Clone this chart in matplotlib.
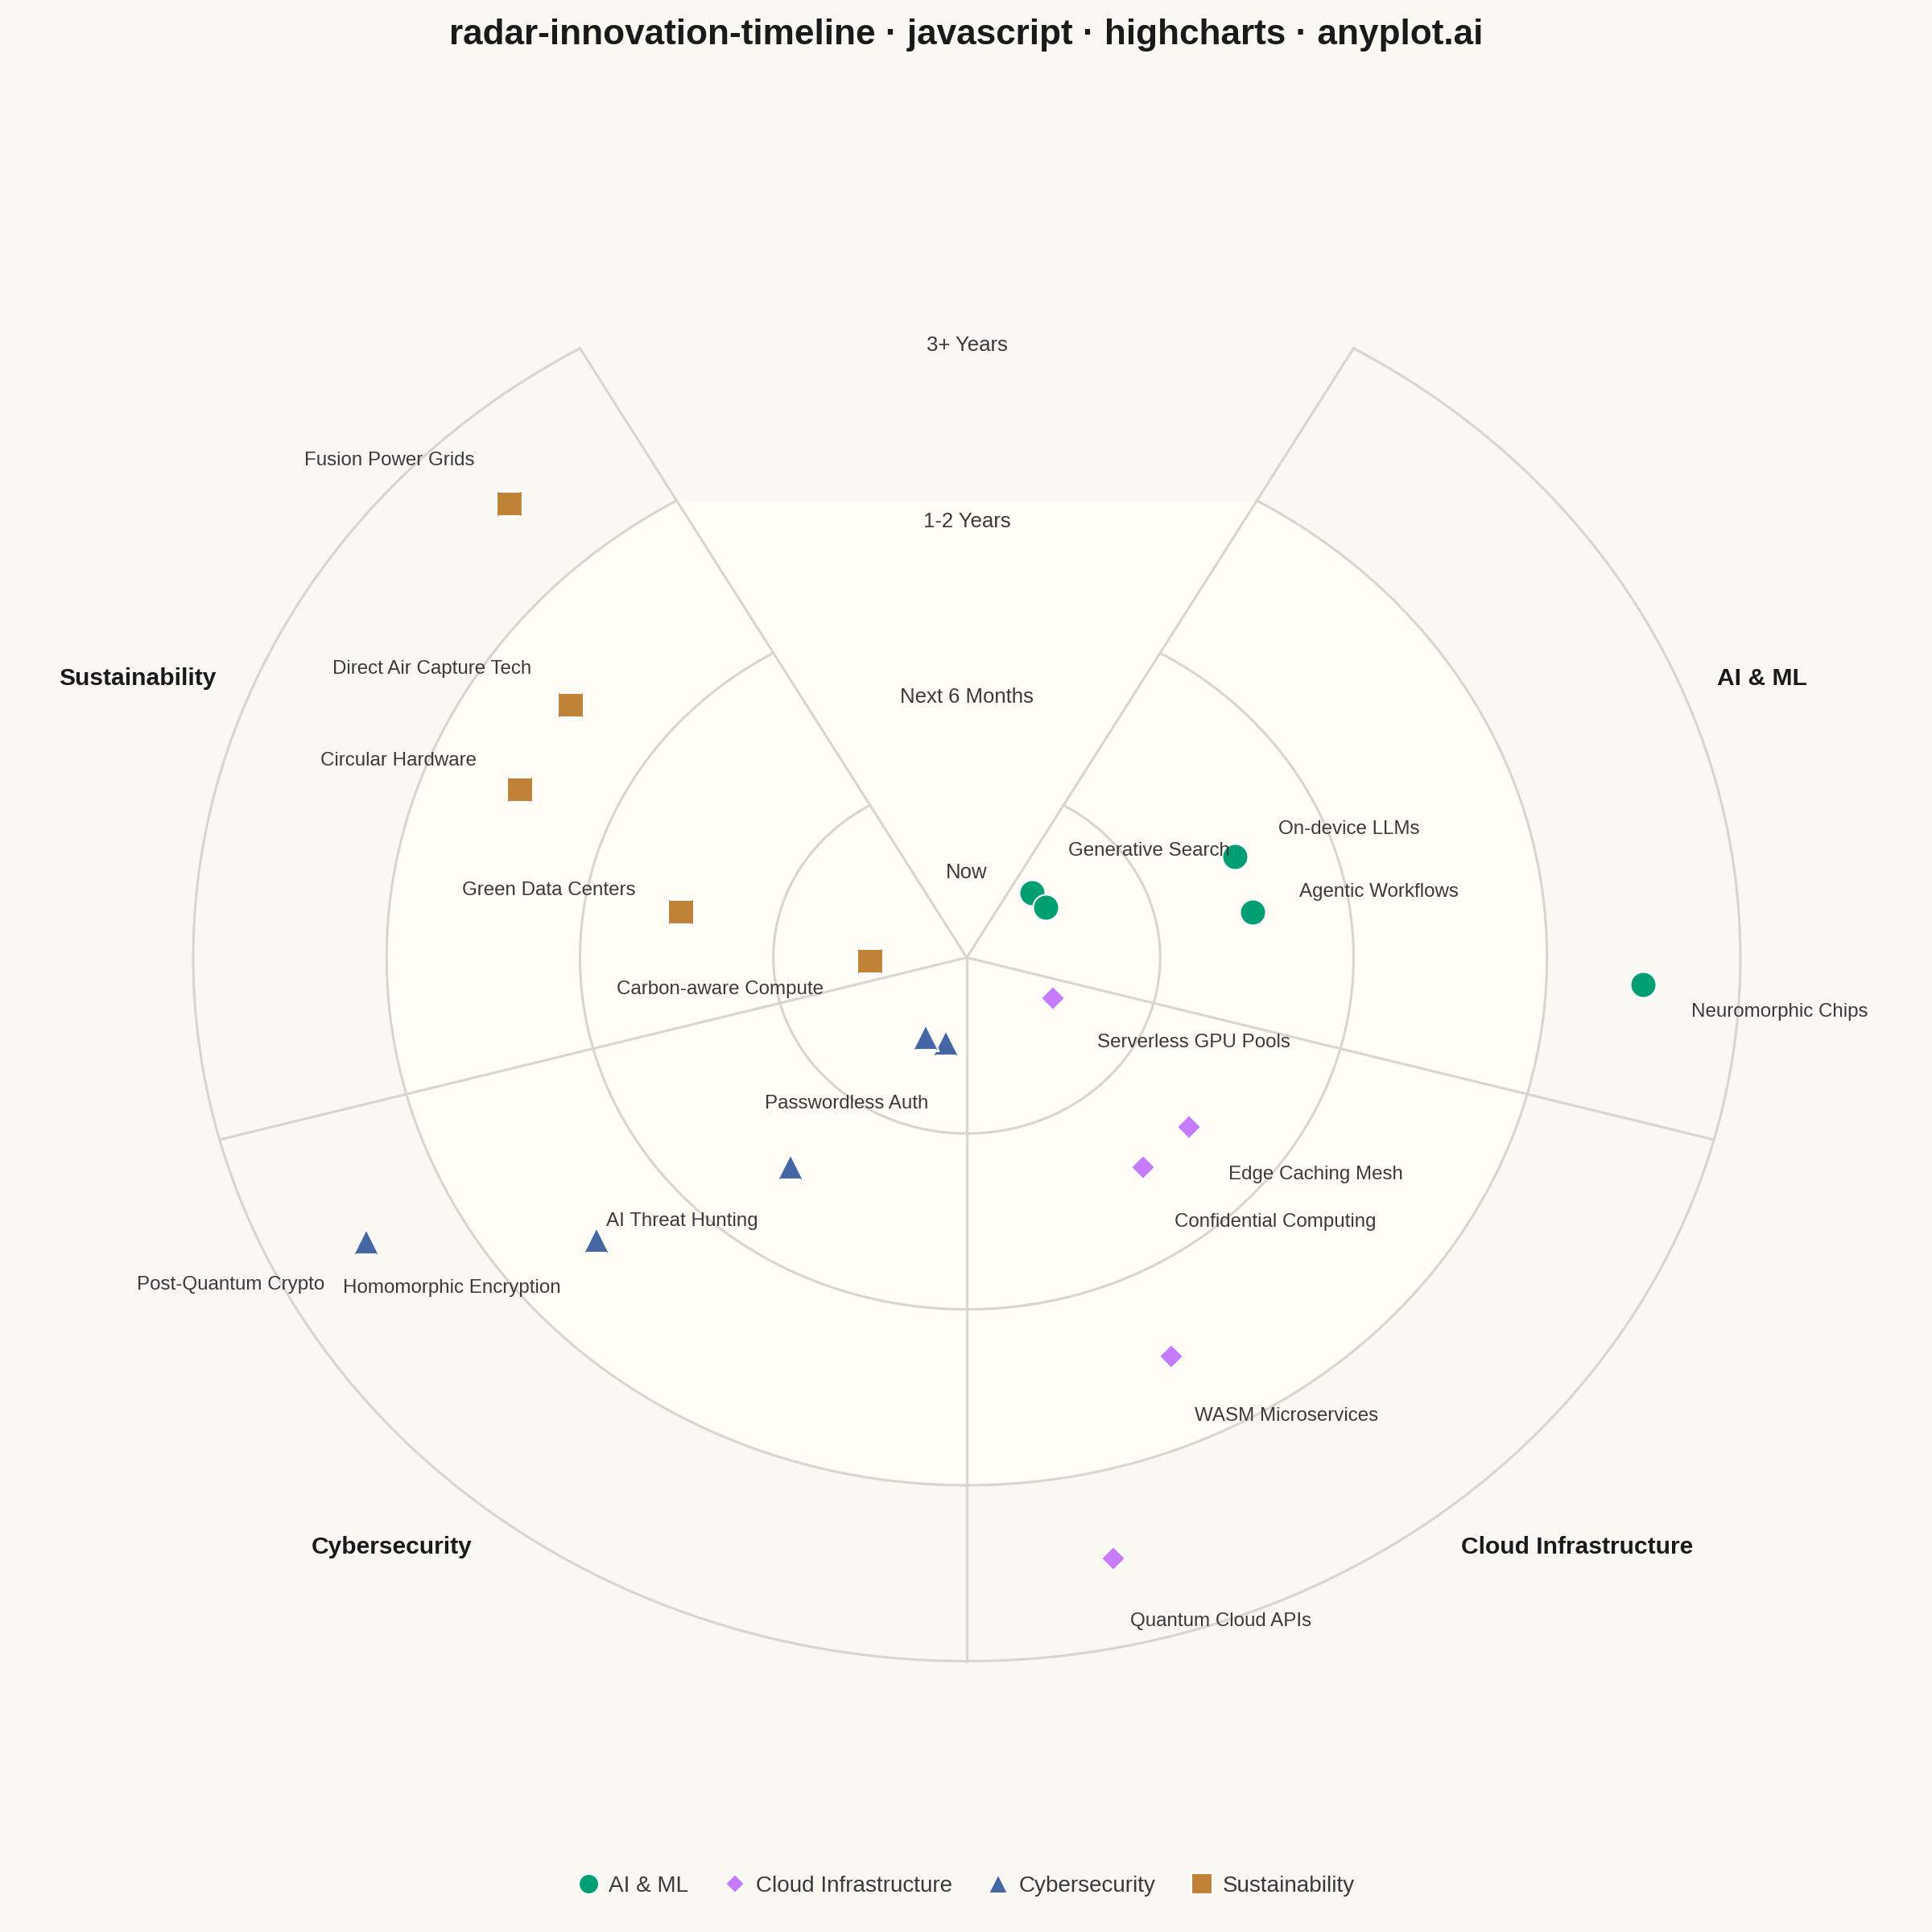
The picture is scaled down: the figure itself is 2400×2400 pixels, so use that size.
import numpy as np
import matplotlib.pyplot as plt
from matplotlib.markers import MarkerStyle
from matplotlib.transforms import offset_copy

plt.rcParams['font.family'] = ['Liberation Sans', 'DejaVu Sans']

# quadrants and horizon rings
categories = ['AI & ML', 'Cloud Infrastructure', 'Cybersecurity', 'Sustainability']
horizons = ['Now', 'Next 6 Months', '1-2 Years', '3+ Years']

# technologies, in clockwise order inside each quadrant
# ('' = label hidden in the original because it overlaps its neighbour)
ai_names = ['Generative Search', '', 'On-device LLMs', 'Agentic Workflows', 'Neuromorphic Chips']
ai_rings = ['Now', 'Now', 'Next 6 Months', 'Next 6 Months', '3+ Years']

cloud_names = ['Serverless GPU Pools', 'Edge Caching Mesh', 'Confidential Computing',
               'WASM Microservices', 'Quantum Cloud APIs']
cloud_rings = ['Now', 'Next 6 Months', 'Next 6 Months', '1-2 Years', '3+ Years']

cyber_names = ['Passwordless Auth', '', 'AI Threat Hunting', 'Homomorphic Encryption',
               'Post-Quantum Crypto']
cyber_rings = ['Now', 'Now', 'Next 6 Months', '1-2 Years', '3+ Years']

sust_names = ['Carbon-aware Compute', 'Green Data Centers', 'Circular Hardware',
              'Direct Air Capture Tech', 'Fusion Power Grids']
sust_rings = ['Now', 'Next 6 Months', '1-2 Years', '1-2 Years', '3+ Years']

all_names = [ai_names, cloud_names, cyber_names, sust_names]
all_rings = [ai_rings, cloud_rings, cyber_rings, sust_rings]

# styling
colors = ['#009E73', '#C77CFF', '#4467A4', '#BF8236']
markers = ['o', 'D', '^', 's']
marker_extent = [7.7, 7.4, 7.5, 7.9]   # visible width of each marker, points
BG = '#FAF8F2'
INNER = '#FFFDF6'
GRID = '#D9D6D0'
TXT = '#3a3a3a'
TEXT_DROP = -1.0   # small downward nudge for all text, points

# label offsets in points (dx, dy) from the marker
label_offsets = [
    [(10.7, 13.6), (0, 0), (12.9, 9.2), (14.0, 7.0), (14.3, -7.2)],
    [(13.2, -12.1), (11.8, -13.2), (9.2, -15.4), (7.0, -16.9), (5.1, -17.6)],
    [(-5.1, -16.9), (0, 0), (-9.5, -15.1), (-10.7, -13.2), (-12.5, -11.8)],
    [(-14.0, -7.3), (-13.6, 7.3), (-12.9, 9.5), (-11.8, 11.8), (-10.3, 14.0)],
]

# sector layout (degrees clockwise from north), top gap left empty
SECTOR_START = 30
SECTOR_SPAN = 75
RMAX = 4


def marker_size(marker, extent):
    """markersize that gives a marker of the wanted width in points"""
    ms = MarkerStyle(marker)
    box = ms.get_path().transformed(ms.get_transform()).get_extents()
    return extent / box.width


fig = plt.figure(figsize=(8, 8), dpi=300, facecolor=BG)
ax = fig.add_axes([0.1, 0.1402, 0.8008, 0.7283], projection='polar')
ax.set_aspect('auto')
ax.set_theta_zero_location('N')
ax.set_theta_direction(-1)
ax.patch.set_visible(False)
ax.spines['polar'].set_visible(False)
ax.grid(False)
ax.set_xticks([])
ax.set_yticks([])

text_trans = offset_copy(ax.transData, fig=fig, y=TEXT_DROP, units='points')

# inner background: arc over the sectors closed by a chord across the gap
arc = np.deg2rad(np.linspace(SECTOR_START, 360 - SECTOR_START, 400))
phi = np.linspace(-SECTOR_START, SECTOR_START, 100)
chord_r = 3 * np.cos(np.deg2rad(SECTOR_START)) / np.cos(np.deg2rad(phi))
fill_t = np.concatenate([arc, np.deg2rad(phi[::-1] % 360)])
fill_r = np.concatenate([np.full(arc.size, 3.0), chord_r[::-1]])
ax.fill(fill_t, fill_r, color=INNER, lw=0, zorder=0)

# ring arcs and sector dividers
for k in range(1, RMAX + 1):
    ax.plot(arc, np.full(arc.size, k), color=GRID, lw=0.75, zorder=1, clip_on=False)
for c in range(len(categories) + 1):
    a = np.deg2rad(SECTOR_START + c * SECTOR_SPAN)
    ax.plot([a, a], [0, RMAX], color=GRID, lw=0.75, zorder=1, clip_on=False)

# ring names along the top gap
for i, h in enumerate(horizons):
    ax.text(0, i + 0.5, h, ha='center', va='center', fontsize=6.2, color=TXT,
            zorder=3, transform=text_trans)

# points and labels
for c, cat in enumerate(categories):
    names = all_names[c]
    n = len(names)
    theta = np.deg2rad(SECTOR_START + c * SECTOR_SPAN
                       + SECTOR_SPAN * np.arange(1, n + 1) / (n + 1))
    r = np.array([horizons.index(h) + 0.5 for h in all_rings[c]])
    ax.plot(theta, r, ls='none', marker=markers[c],
            ms=marker_size(markers[c], marker_extent[c]), color=colors[c],
            mec='white', mew=0.5, zorder=4, label=cat)
    for i, name in enumerate(names):
        if not name:
            continue
        dx, dy = label_offsets[c][i]
        ax.annotate(name, (theta[i], r[i]), xytext=(dx, dy + TEXT_DROP),
                    textcoords='offset points',
                    ha='left' if dx > 0 else 'right', va='center',
                    fontsize=5.8, color=TXT, zorder=5)

    # quadrant title outside the rings
    mid = SECTOR_START + (c + 0.5) * SECTOR_SPAN
    ax.text(np.deg2rad(mid), RMAX + 0.2, cat, ha='left' if mid < 180 else 'right',
            va='center', fontsize=7.2, fontweight='bold', color='#1a1a1a',
            transform=text_trans)

ax.set_rlim(0, RMAX)

fig.text(0.5, 0.982, 'radar-innovation-timeline · javascript · highcharts · anyplot.ai',
         ha='center', va='center', fontsize=10.6, fontweight='bold', color='#1a1a1a')

leg = ax.legend(loc='center', bbox_to_anchor=(0.5, 0.0238), bbox_transform=fig.transFigure,
                ncol=4, frameon=False, fontsize=6.7, numpoints=1, markerscale=0.78,
                handlelength=1.0, handletextpad=0.43, columnspacing=1.55)
for t in leg.get_texts():
    t.set_color(TXT)

fig.savefig('out.png', dpi=300, facecolor=BG)
